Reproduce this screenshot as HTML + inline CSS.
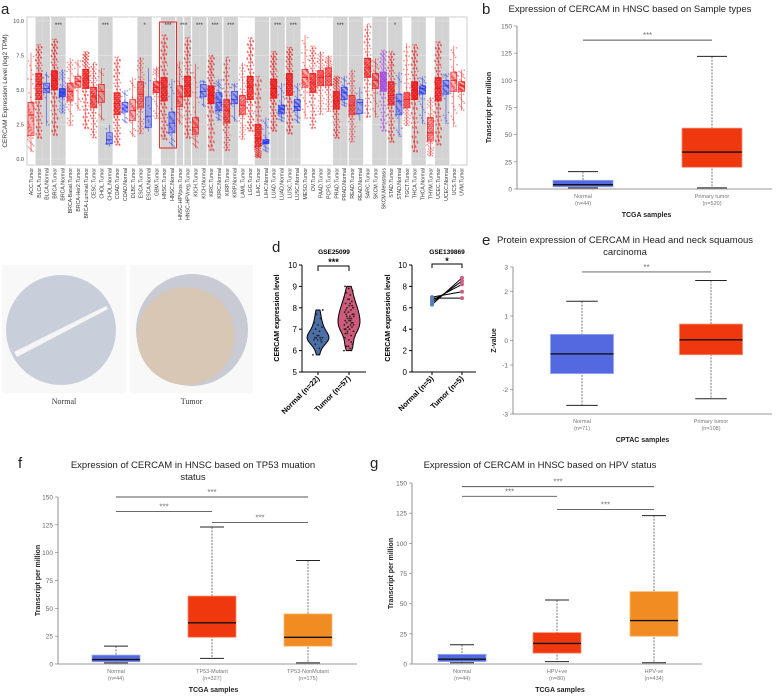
<!DOCTYPE html>
<html><head><meta charset="utf-8">
<style>
body{margin:0;background:#fff;}
svg{display:block;font-family:"Liberation Sans",sans-serif;}
</style></head>
<body>
<svg id="fig" width="777" height="699" viewBox="0 0 777 699" xmlns="http://www.w3.org/2000/svg"></svg>
<script>
// ---------- Panel a data ----------
const catsA=["ACC.Tumor","BLCA.Tumor","BLCA.Normal","BRCA.Tumor","BRCA.Normal","BRCA-Basal.Tumor","BRCA-Her2.Tumor","BRCA-Luminal.Tumor","CESC.Tumor","CHOL.Tumor","CHOL.Normal","COAD.Tumor","COAD.Normal","DLBC.Tumor","ESCA.Tumor","ESCA.Normal","GBM.Tumor","HNSC.Tumor","HNSC.Normal","HNSC-HPVpos.Tumor","HNSC-HPVneg.Tumor","KICH.Tumor","KICH.Normal","KIRC.Tumor","KIRC.Normal","KIRP.Tumor","KIRP.Normal","LAML.Tumor","LGG.Tumor","LIHC.Tumor","LIHC.Normal","LUAD.Tumor","LUAD.Normal","LUSC.Tumor","LUSC.Normal","MESO.Tumor","OV.Tumor","PAAD.Tumor","PCPG.Tumor","PRAD.Tumor","PRAD.Normal","READ.Tumor","READ.Normal","SARC.Tumor","SKCM.Tumor","SKCM.Metastasis","STAD.Tumor","STAD.Normal","TGCT.Tumor","THCA.Tumor","THCA.Normal","THYM.Tumor","UCEC.Tumor","UCEC.Normal","UCS.Tumor","UVM.Tumor"];
const medA=[3.2,5.4,5.1,5.7,4.8,4.9,5.6,5.8,4.5,4.9,1.4,4.0,3.7,3.5,4.7,3.1,5.2,5.2,2.6,4.5,5.3,2.3,4.9,4.6,4.1,3.5,4.3,3.9,5.2,1.5,1.2,5.1,3.6,5.4,3.8,5.9,5.5,5.9,6.0,4.2,4.8,3.9,4.1,6.6,5.7,5.6,4.6,4.2,4.3,5.0,5.1,1.9,5.1,5.3,5.7,5.3];
const q1A=[1.7,4.3,4.8,5.0,4.5,4.2,5.2,5.1,3.7,4.1,1.1,3.2,3.4,2.8,3.7,2.3,4.8,4.2,1.9,3.8,4.5,1.8,4.5,4.0,3.5,2.6,4.0,3.2,4.3,0.9,1.1,4.4,3.3,4.6,3.5,5.2,4.8,5.3,5.3,3.6,4.3,3.2,3.3,5.9,5.1,4.9,3.9,3.2,3.7,4.3,4.7,1.3,4.2,4.7,4.9,4.9];
const q3A=[4.1,6.2,5.5,6.4,5.1,5.5,6.0,6.5,5.2,5.4,1.9,4.8,4.1,4.3,5.6,4.5,5.6,5.9,3.4,5.3,6.0,3.0,5.4,5.3,4.8,4.3,4.9,4.6,6.0,2.5,1.4,5.8,3.9,6.2,4.3,6.5,6.2,6.4,6.6,4.9,5.2,4.6,4.3,7.3,6.2,6.3,5.6,4.7,4.8,5.6,5.3,3.0,5.9,5.7,6.3,5.6];
const loA=[0.5,1.5,2.4,1.7,3.3,2.4,3.5,2.2,1.5,2.8,0.9,1.0,2.6,1.6,1.8,2.0,2.9,1.4,0.9,2.5,1.5,0.8,3.8,0.6,2.8,0.6,2.7,1.4,2.0,0.1,0.5,2.0,2.7,1.8,2.6,2.9,2.2,3.2,3.4,1.5,3.8,1.2,2.8,3.0,3.0,2.0,1.2,1.6,2.4,0.5,2.5,0.2,1.0,2.5,2.3,3.5];
const hiA=[7.7,8.3,6.3,8.7,6.5,7.3,7.2,7.8,7.0,6.6,2.5,7.4,5.0,5.9,7.4,6.6,6.7,9.0,5.8,7.1,8.8,6.9,5.7,7.5,5.8,7.4,5.5,7.0,8.8,6.0,3.0,7.8,5.5,8.1,5.5,9.0,8.2,7.8,7.5,6.0,6.0,6.5,5.2,9.8,7.3,7.9,7.8,6.3,8.4,8.3,6.0,4.5,8.5,6.2,8.2,6.5];
const countA=[60,250,20,300,100,80,40,250,170,30,9,250,40,40,100,11,80,300,44,60,250,60,25,300,72,180,32,100,300,250,50,300,59,300,50,60,200,120,120,250,52,120,10,180,60,250,250,36,110,300,59,100,300,35,50,60];
const starsA=[["BRCA","***",3,4],["CHOL","***",9,10],["ESCA","*",14,15],["HNSC","***",17,18],["HNSC-HPV","***",19,20],["KICH","***",21,22],["KIRC","***",23,24],["KIRP","***",25,26],["LUAD","***",31,32],["LUSC","***",33,34],["PRAD","***",39,40],["STAD","*",46,47]];
const grayGroups=["BLCA","BRCA","CHOL","ESCA","HNSC","HNSC-HPVpos","HNSC-HPVneg","KICH","KIRC","KIRP","LIHC","LUAD","LUSC","PRAD","READ","SKCM","STAD","THCA","UCEC"];
const ticksA=[0,2.5,5,7.5,10];

// ---------- Panel b data ----------
const catsB=["Normal","Primary tumor"], nB=["(n=44)","(n=520)"];
const q1B=[2,20], medB=[4,34], q3B=[8,56], loB=[1,1], hiB=[16,122];
const ticksTPM=[0,25,50,75,100,125,150];
// ---------- Panel d data ----------
const violNorm=[5.8,6.1,6.3,6.4,6.5,6.5,6.6,6.6,6.6,6.7,6.6,6.5,6.7,6.8,6.9,7.0,7.1,7.2,7.3,7.5,7.7,7.9];
const violTum=[6.0,6.1,6.2,6.3,6.5,6.6,6.7,6.8,6.9,7.0,7.0,7.1,7.1,7.2,7.2,7.3,7.3,7.4,7.4,7.5,7.5,7.6,7.6,7.7,7.7,7.8,7.8,7.9,8.0,8.0,8.1,8.2,8.3,8.4,8.5,8.6,8.7,8.8,8.9,9.0,6.4,6.9,7.2,7.5,7.9,8.1,6.2,7.0,7.4,7.6,8.0,8.4,6.8,7.3,7.1,7.7,8.2];
const pairNorm=[6.3,6.5,6.7,7.0,6.9], pairTum=[8.8,8.5,8.2,7.5,6.9];
const ticksD1=[5,6,7,8,9,10], ticksD2=[0,2,4,6,8,10];
// ---------- Panel e data ----------
const catsE=["Normal","Primary tumor"], nE=["(n=71)","(n=108)"];
const q1E=[-1.35,-0.58], medE=[-0.55,0.03], q3E=[0.25,0.67], loE=[-2.65,-2.38], hiE=[1.6,2.45];
const ticksE=[-3,-2,-1,0,1,2,3];
// ---------- Panel f data ----------
const catsF=["Normal","TP53-Mutant","TP53-NonMutant"], nF=["(n=44)","(n=327)","(n=175)"];
const q1F=[2,24,16], medF=[4,37,24], q3F=[8,61,45], loF=[1,5,1], hiF=[16,123,93];
// ---------- Panel g data ----------
const catsG=["Normal","HPV+ve","HPV-ve"], nG=["(n=44)","(n=80)","(n=434)"];
const q1G=[2,9,23], medG=[4,17,36], q3G=[8,26,60], loG=[1,2,1], hiG=[16,53,123];

const NS="http://www.w3.org/2000/svg";
const svg=document.getElementById('fig');
function mk(tag,attrs,parent){const e=document.createElementNS(NS,tag);for(const k in attrs)e.setAttribute(k,attrs[k]);(parent||svg).appendChild(e);return e;}
function txt(s,attrs,parent){const e=mk('text',attrs,parent);e.textContent=s;return e;}
function grp(name){const g=mk('g',{});


return g;}

// ================= Panel a =================
(function(){
const g=grp('panel-a-tumor-normal-boxplot');
const L=27,R=467,T=17,B=165;
const y=v=>159-v*13.8;
const x=i=>31+i*7.83;
const bg=mk('rect',{x:L,y:T,width:R-L,height:B-T,fill:'#fff',stroke:'#aaa','stroke-width':0.6},g);


catsA.forEach((c,i)=>{const grpName=c.split('.')[0];
 if(grayGroups.includes(grpName)){const r=mk('rect',{x:x(i)-3.9,y:T+0.5,width:7.83,height:B-T-1,fill:'#d3d3d3'},g);
 
 }});
catsA.forEach((c,i)=>{if(i>0&&catsA[i-1].split('.')[0]!==c.split('.')[0]){mk('line',{x1:x(i)-3.9,x2:x(i)-3.9,y1:T,y2:B,stroke:'#fff','stroke-width':1.2},g);}});
ticksA.forEach(t=>{mk('line',{x1:L,x2:R,y1:y(t),y2:y(t),stroke:'#fff','stroke-width':0.4,opacity:0.6},g);
 const tl=txt(t.toFixed(1),{x:L-3,y:y(t)+2,'font-size':5.5,'text-anchor':'end',fill:'#444'},g);
 
 });
const yl=txt('CERCAM Expression Level (log2 TPM)',{transform:'translate(7,91) rotate(-90)','font-size':6.5,'text-anchor':'middle',fill:'#333'},g);


catsA.forEach((c,i)=>{
 const col=c.indexOf('Metastasis')>=0?'#a040e0':(c.indexOf('Normal')>=0?'#2233ee':'#ee1111');
 const n=countA[i];
 for(let k=0;k<n;k++){const u=(k*0.6180339)%1, w=((k*0.7548776)%1)-0.5;
  let v; if(k%5<3) v=q1A[i]+(q3A[i]-q1A[i])*u; else if(k%5===3) v=loA[i]+(q1A[i]-loA[i])*u; else v=q3A[i]+(hiA[i]-q3A[i])*u;
  mk('circle',{cx:x(i)+w*6.5,cy:y(v),r:0.85,fill:col,opacity:0.45},g);}
 const b=mk('rect',{x:x(i)-3,y:y(q3A[i]),width:6,height:y(q1A[i])-y(q3A[i]),fill:col,'fill-opacity':0.3,stroke:col,'stroke-width':0.6},g);
 
 
 mk('line',{x1:x(i)-3,x2:x(i)+3,y1:y(medA[i]),y2:y(medA[i]),stroke:col,'stroke-width':0.8},g);
 mk('line',{x1:x(i),x2:x(i),y1:y(q3A[i]),y2:y(hiA[i]),stroke:col,'stroke-width':0.5},g);
 mk('line',{x1:x(i),x2:x(i),y1:y(q1A[i]),y2:y(loA[i]),stroke:col,'stroke-width':0.5},g);
 const tl=txt(c,{transform:`translate(${x(i)+2},${B+3}) rotate(-90)`,'font-size':5.2,'text-anchor':'end',fill:'#333'},g);
 
 
});
starsA.forEach(s=>{const st=txt(s[1],{x:(x(s[2])+x(s[3]))/2,y:27,'font-size':6,'text-anchor':'middle',fill:'#333'},g);
 
 });
const hi=mk('rect',{x:x(17)-4.5,y:22,width:x(18)-x(17)+9,height:126,fill:'none',stroke:'#e02020','stroke-width':1},g);


const lt=txt('a',{x:1,y:14,'font-size':15,fill:'#222'},g);


})();

// ================= generic box chart =================
function boxChart(o){
 const g=grp(o.name);
 const y=v=>o.y0-(v-o.vmin)/(o.vmax-o.vmin)*(o.y0-o.y1);
 mk('line',{x1:o.ax,x2:o.ax,y1:o.y1,y2:o.y0,stroke:'#777','stroke-width':0.8},g);
 mk('line',{x1:o.ax,x2:o.xEnd,y1:o.y0,y2:o.y0,stroke:'#777','stroke-width':0.8},g);
 o.ticks.forEach(t=>{mk('line',{x1:o.ax-3,x2:o.ax,y1:y(t),y2:y(t),stroke:'#777','stroke-width':0.6},g);
  const tl=txt(String(t),{x:o.ax-5,y:y(t)+2.5,'font-size':6.5,'text-anchor':'end',fill:'#666'},g);
  
  });
 o.cats.forEach((c,i)=>{const cx=o.xs[i],w=o.bw/2;
  mk('line',{x1:cx,x2:cx,y1:y(o.hi[i]),y2:y(o.lo[i]),stroke:'#555','stroke-width':0.8,'stroke-dasharray':'2,1.2'},g);
  mk('line',{x1:cx-w/2,x2:cx+w/2,y1:y(o.hi[i]),y2:y(o.hi[i]),stroke:'#222','stroke-width':1},g);
  mk('line',{x1:cx-w/2,x2:cx+w/2,y1:y(o.lo[i]),y2:y(o.lo[i]),stroke:'#222','stroke-width':1},g);
  const b=mk('rect',{x:cx-w,y:y(o.q3[i]),width:o.bw,height:Math.max(1,y(o.q1[i])-y(o.q3[i])),fill:o.cols[i],stroke:o.strokes[i],'stroke-width':0.8},g);
  
  
  mk('line',{x1:cx-w,x2:cx+w,y1:y(o.med[i]),y2:y(o.med[i]),stroke:'#111','stroke-width':1.4},g);
  const l1=txt(c,{x:cx,y:o.y0+9,'font-size':5.5,'text-anchor':'middle',fill:'#777'},g);
  
  
  txt(o.ns[i],{x:cx,y:o.y0+16,'font-size':5.5,'text-anchor':'middle',fill:'#777'},g);
 });
 o.sig.forEach(s=>{mk('line',{x1:o.xs[s[0]],x2:o.xs[s[1]],y1:y(s[2]),y2:y(s[2]),stroke:'#555','stroke-width':0.9},g);
  const st=txt(s[3],{x:(o.xs[s[0]]+o.xs[s[1]])/2,y:y(s[2])-2,'font-size':8,'text-anchor':'middle',fill:'#777'},g);
  
  });
 const xt=txt(o.xtitle,{x:(o.ax+o.xEnd)/2-(o.xtOff||0),y:o.y0+28,'font-size':7,'font-weight':'bold','text-anchor':'middle',fill:'#222'},g);
 
 
 const yt=txt(o.ytitle,{transform:`translate(${o.ylx},${(o.y0+o.y1)/2}) rotate(-90)`,'font-size':7,'font-weight':'bold','text-anchor':'middle',fill:'#222'},g);
 
 
 o.title.forEach((t,k)=>{const tt=txt(t,{x:o.tx,y:o.ty+k*12,'font-size':9.5,'text-anchor':'middle',fill:'#222'},g);
  
  });
 const lt=txt(o.letter,{x:o.lx,y:o.ly,'font-size':15,fill:'#222'},g);
 
 
}
const BLUE='#5468e0',RED='#f0380f',ORG='#f08c22';
boxChart({name:'panel-b-sample-types',ax:517,xEnd:772,y0:189,y1:26,vmin:0,vmax:150,ticks:ticksTPM,cats:catsB,ns:nB,xs:[583,712],bw:60,
 q1:q1B,med:medB,q3:q3B,lo:loB,hi:hiB,cols:[BLUE,RED],strokes:['#9aa8f0','#f88a70'],sig:[[0,1,137,'***']],
 xtitle:'TCGA samples',ytitle:'Transcript per million',ylx:491,title:['Expression of CERCAM in HNSC based on Sample types'],tx:630,ty:12,letter:'b',lx:482,ly:14,xtOff:-2});
boxChart({name:'panel-e-protein-expression',ax:513,xEnd:772,y0:414,y1:267,vmin:-3,vmax:3,ticks:ticksE,cats:catsE,ns:nE,xs:[582,711],bw:63,
 q1:q1E,med:medE,q3:q3E,lo:loE,hi:hiE,cols:[BLUE,RED],strokes:['#9aa8f0','#f88a70'],sig:[[0,1,2.8,'**']],
 xtitle:'CPTAC samples',ytitle:'Z-value',ylx:496,title:['Protein expression of CERCAM in Head and neck squamous','carcinoma'],tx:625,ty:243,letter:'e',lx:482,ly:245});
boxChart({name:'panel-f-tp53-status',ax:58,xEnd:357,y0:664,y1:497,vmin:0,vmax:150,ticks:ticksTPM,cats:catsF,ns:nF,xs:[116,212,308],bw:48,
 q1:q1F,med:medF,q3:q3F,lo:loF,hi:hiF,cols:[BLUE,RED,ORG],strokes:['#9aa8f0','#f88a70','#f8b870'],sig:[[0,2,150,'***'],[0,1,137,'***'],[1,2,127,'***']],
 xtitle:'TCGA samples',ytitle:'Transcript per million',ylx:40,title:['Expression of CERCAM in HNSC based on TP53 muation','status'],tx:193,ty:468,letter:'f',lx:18,ly:468,xtOff:-6});
boxChart({name:'panel-g-hpv-status',ax:412,xEnd:702,y0:664,y1:483,vmin:0,vmax:150,ticks:ticksTPM,cats:catsG,ns:nG,xs:[462,557,654],bw:48,
 q1:q1G,med:medG,q3:q3G,lo:loG,hi:hiG,cols:[BLUE,RED,ORG],strokes:['#9aa8f0','#f88a70','#f8b870'],sig:[[0,2,147,'***'],[0,1,139,'***'],[1,2,128,'***']],
 xtitle:'TCGA samples',ytitle:'Transcript per million',ylx:393,title:['Expression of CERCAM in HNSC based on HPV status'],tx:540,ty:468,letter:'g',lx:370,ly:468,xtOff:-3});

// ================= Panel c =================
(function(){
 const g=grp('panel-c-ihc-images');
 const lt=txt('c',{x:2,y:274,'font-size':15,fill:'#222'},g);
 
 
 [[2,126,'Normal'],[130,253,'Tumor']].forEach(p=>{
  const bgr=mk('rect',{x:p[0],y:265,width:p[1]-p[0],height:128,fill:'#f8f8f8'},g);
  
  
  const lb=txt(p[2],{x:(p[0]+p[1])/2,y:404,'font-size':8,'font-family':'Liberation Serif, serif','text-anchor':'middle',fill:'#333'},g);
  
  
 });
 // normal tissue core
 mk('circle',{cx:61,cy:330,r:55,fill:'#c9cedb'},g);
 mk('path',{d:'M14,352 L106,306 L108,309 L17,357 Z',fill:'#f5f5f5'},g);
 // tumor tissue core
 mk('circle',{cx:192,cy:330,r:56,fill:'#c8cbd4'},g);
 mk('circle',{cx:186,cy:336,r:49,fill:'#d8c7b5'},g);
})();

// ================= Panel d =================
(function(){
 const g=grp('panel-d-geo-datasets');
 const lt=txt('d',{x:272,y:252,'font-size':15,fill:'#222'},g);
 
 
 const ax=302,y0=372,y1=265;
 const y=v=>y0-(v-5)/5*(y0-y1);
 mk('line',{x1:ax,x2:ax,y1:y1,y2:y0,stroke:'#000','stroke-width':1},g);
 mk('line',{x1:ax,x2:366,y1:y0,y2:y0,stroke:'#000','stroke-width':1},g);
 ticksD1.forEach(t=>{mk('line',{x1:ax-3,x2:ax,y1:y(t),y2:y(t),stroke:'#000'},g);
  const tl=txt(String(t),{x:ax-5,y:y(t)+3,'font-size':8,'text-anchor':'end'},g);
  
  });
 const t1=txt('GSE25099',{x:334,y:254,'font-size':6.5,'font-weight':'bold','text-anchor':'middle'},g);
 
 
 const yt=txt('CERCAM expression level',{transform:'translate(279,318) rotate(-90)','font-size':7,'font-weight':'bold','text-anchor':'middle'},g);
 
 
 function violin(data,cx,col,name){const mn=Math.min(...data),mx=Math.max(...data);
  const steps=16,pts=[];
  for(let k=0;k<=steps;k++){const v=mn+(mx-mn)*k/steps;let d=0;data.forEach(z=>{d+=Math.exp(-Math.pow((z-v)/0.25,2)/2);});pts.push([v,d]);}
  const dm=Math.max(...pts.map(p=>p[1]));
  let dstr='';pts.forEach((p,k)=>{dstr+=(k?'L':'M')+(cx+p[1]/dm*11)+','+y(p[0]);});
  for(let k=pts.length-1;k>=0;k--){dstr+='L'+(cx-pts[k][1]/dm*11)+','+y(pts[k][0]);}
  const v=mk('path',{d:dstr+'Z',fill:col,stroke:'#000','stroke-width':1},g);
  
  
  data.forEach((z,k)=>{mk('circle',{cx:cx+(((k*0.618)%1)-0.5)*10,cy:y(z),r:0.9,fill:'#222'},g);});
 }
 violin(violNorm,318,'#4c6fa8','violin-normal');
 violin(violTum,349,'#cf5a7a','violin-tumor');
 mk('path',{d:'M318,271 L318,266 L349,266 L349,271',fill:'none',stroke:'#000'},g);
 txt('***',{x:333.5,y:265,'font-size':9,'text-anchor':'middle','font-weight':'bold'},g);
 [['Normal (n=22)',318],['Tumor (n=57)',349]].forEach(p=>{mk('line',{x1:p[1],x2:p[1],y1:y0,y2:y0+3,stroke:'#000'},g);
  const tl=txt(p[0],{transform:`translate(${p[1]+2},${y0+7}) rotate(-45)`,'font-size':7.5,'font-weight':'bold','text-anchor':'end'},g);
  
  });
 const bx=412,yy=v=>372-v/10*107;
 mk('line',{x1:bx,x2:bx,y1:265,y2:372,stroke:'#000'},g);
 mk('line',{x1:bx,x2:476,y1:372,y2:372,stroke:'#000'},g);
 ticksD2.forEach(t=>{mk('line',{x1:bx-3,x2:bx,y1:yy(t),y2:yy(t),stroke:'#000'},g);
  const tl=txt(String(t),{x:bx-5,y:yy(t)+3,'font-size':8,'text-anchor':'end'},g);
  
  });
 const t2=txt('GSE139869',{x:447,y:254,'font-size':6.5,'font-weight':'bold','text-anchor':'middle'},g);
 
 
 const yt2=txt('CERCAM expression level',{transform:'translate(390,318) rotate(-90)','font-size':7,'font-weight':'bold','text-anchor':'middle'},g);
 
 
 pairNorm.forEach((v,k)=>{mk('line',{x1:432,x2:462,y1:yy(v),y2:yy(pairTum[k]),stroke:'#000','stroke-width':1},g);
  const a=mk('circle',{cx:432,cy:yy(v),r:2,fill:'#5a7fc0'},g);
  
  
  const b=mk('circle',{cx:462,cy:yy(pairTum[k]),r:2,fill:'#d06080'},g);
  
  });
 mk('path',{d:'M432,268 L432,264 L462,264 L462,268',fill:'none',stroke:'#000'},g);
 txt('*',{x:447,y:264,'font-size':9,'text-anchor':'middle','font-weight':'bold'},g);
 [['Normal (n=5)',432],['Tumor (n=5)',462]].forEach(p=>{mk('line',{x1:p[1],x2:p[1],y1:372,y2:375,stroke:'#000'},g);
  const tl=txt(p[0],{transform:`translate(${p[1]+2},${379}) rotate(-45)`,'font-size':7.5,'font-weight':'bold','text-anchor':'end'},g);
  
  });
})();
</script>
</body></html>
